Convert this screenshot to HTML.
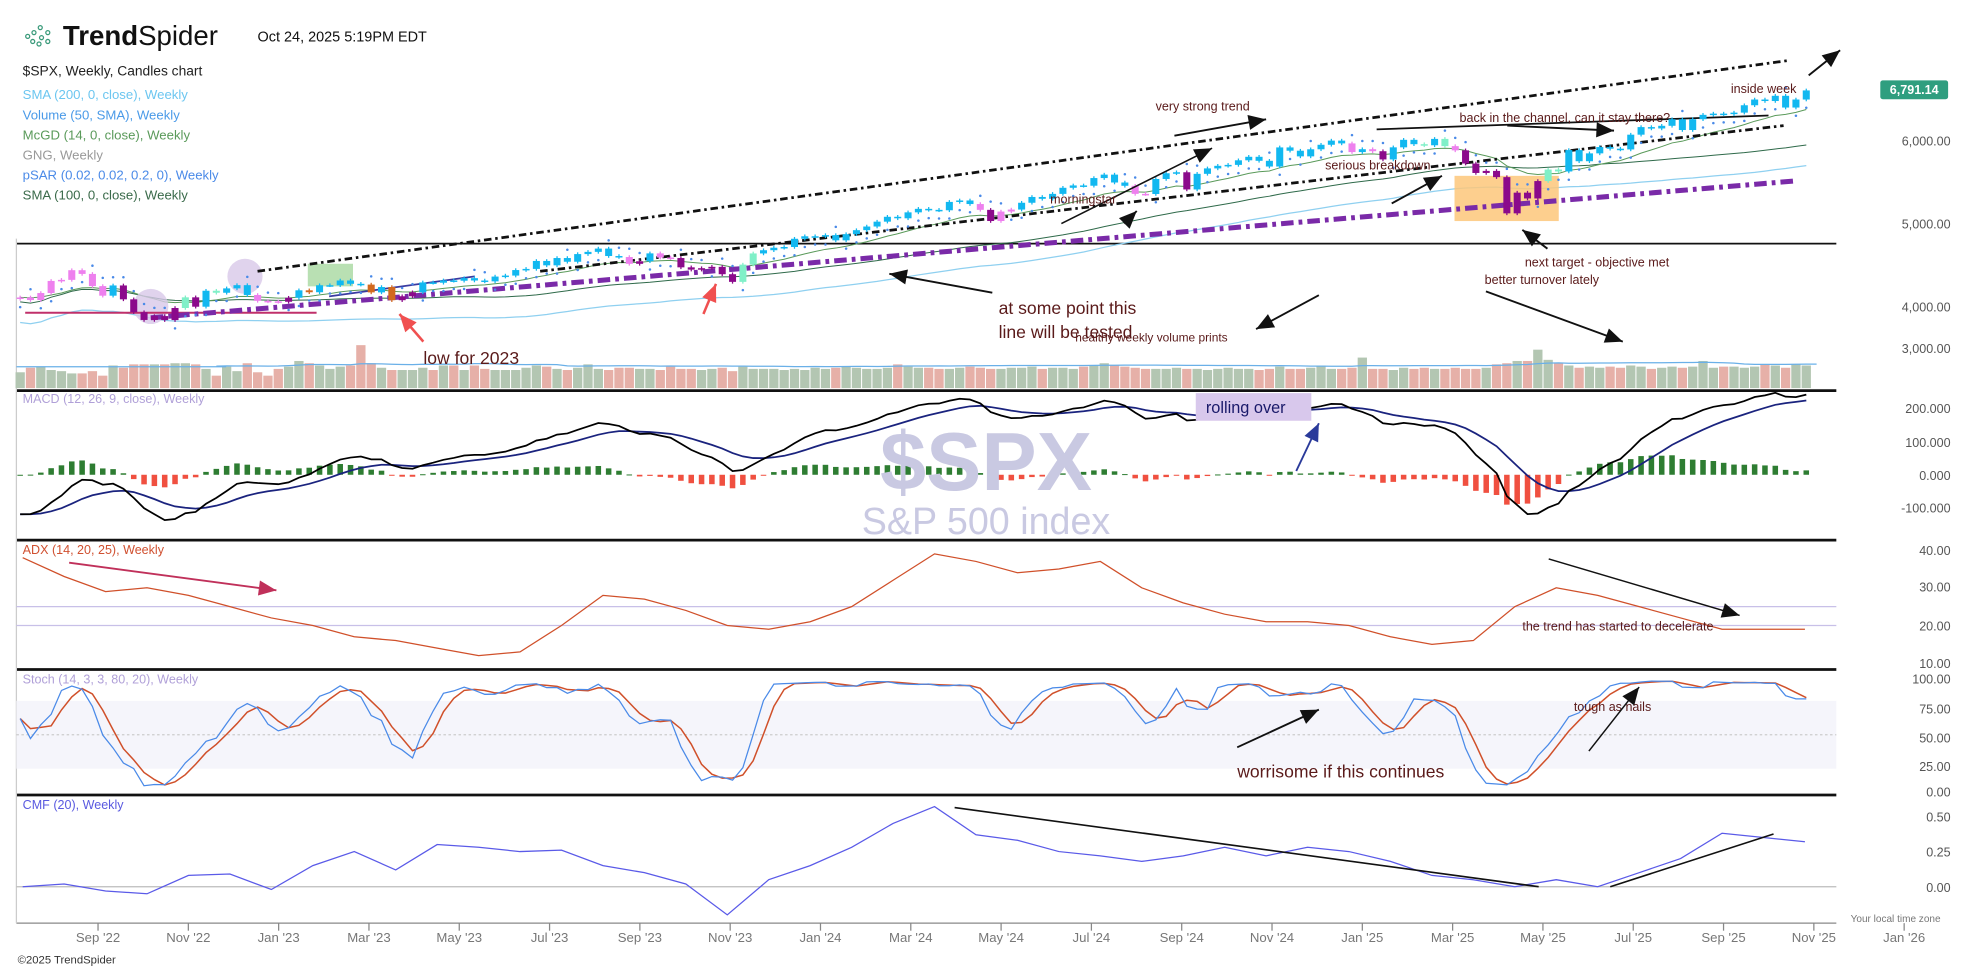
<!DOCTYPE html>
<html><head><meta charset="utf-8"><style>
html,body{margin:0;padding:0;background:#fff;overflow:hidden}
svg{display:block;font-family:"Liberation Sans",sans-serif}
</style></head><body>
<svg id="chart" width="1962" height="969" viewBox="0 0 1562 771.5" xmlns="http://www.w3.org/2000/svg">
<rect x="0" y="0" width="1562" height="771.5" fill="#fff"/>
<g>
  <g fill="none" stroke="#3a9a7a" stroke-width="1">
    <circle cx="22" cy="29" r="1.6"/><circle cx="27" cy="26" r="1.6"/><circle cx="32" cy="22" r="1.6"/><circle cx="26" cy="33" r="1.6"/><circle cx="33" cy="30" r="1.6"/><circle cx="38" cy="26" r="1.6"/><circle cx="38" cy="33" r="1.6"/><circle cx="31" cy="35" r="1.6"/>
  </g>
  <text x="50" y="36" font-size="22" fill="#111"><tspan font-weight="bold">Trend</tspan>Spider</text>
  <text x="205" y="33" font-size="11.5" fill="#111">Oct 24, 2025 5:19PM EDT</text>
  <text x="18" y="60" font-size="11" fill="#222">$SPX, Weekly, Candles chart</text>
  <text x="18" y="79" font-size="10.5" fill="#6cc6f0">SMA (200, 0, close), Weekly</text>
  <text x="18" y="95" font-size="10.5" fill="#4a9ae8">Volume (50, SMA), Weekly</text>
  <text x="18" y="111" font-size="10.5" fill="#5a9a5a">McGD (14, 0, close), Weekly</text>
  <text x="18" y="127" font-size="10.5" fill="#999">GNG, Weekly</text>
  <text x="18" y="143" font-size="10.5" fill="#4a8ae8">pSAR (0.02, 0.02, 0.2, 0), Weekly</text>
  <text x="18" y="159" font-size="10.5" fill="#3a6a4a">SMA (100, 0, close), Weekly</text>
</g>
<g id="plot"></g>
<text x="785" y="390" font-size="66" fill="#c9c9e2" text-anchor="middle" font-weight="bold">$SPX</text>
<text x="785" y="425" font-size="30" fill="#c9c9e2" text-anchor="middle">S&amp;P 500 index</text>
<g id="annot"></g>
</svg>
<script>
const closes=[3899,3863,3961,4130,4145,4280,4228,4058,3924,4067,3873,3693,3585,3639,3583,3752,3901,3770,3993,3965,4026,4071,3934,3852,3845,3839,
3895,3999,3972,4070,4070,4136,4090,4079,3970,4045,3861,3916,3971,4109,4105,4137,4133,4169,4136,4124,4191,4205,4282,4298,4409,4348,4450,4398,4505,4536,4582,4478,4464,4369,4405,4515,4457,4450,4320,4288,4308,4327,4224,4117,4358,4514,4559,4594,4604,4719,4754,4754,4770,
4697,4783,4839,4890,4958,5026,5005,5088,5137,5123,5117,5234,5254,5204,5123,4967,5099,5127,5222,5303,5277,5346,5431,5464,5460,5567,5615,5505,5459,5346,5344,5554,5634,5648,5408,5626,5702,5738,5751,5815,5864,5808,5728,5995,5949,5870,5969,6032,6090,6051,5930,5970,
5942,5827,5996,6101,6040,6025,6114,6013,5954,5770,5638,5667,5580,5074,5363,5282,5525,5686,5659,5958,5802,5912,6000,5977,5967,6173,6279,6260,6297,6389,6238,6389,6450,6467,6460,6481,6584,6664,6643,6716,6552,6664,6791];
const volumes=[14,18,19,16,15,13,13,15,11,20,18,21,21,21,21,22,22,21,17,11,19,15,22,14,11,17,19,24,22,20,17,19,20,38,22,18,16,16,16,18,16,20,20,16,20,17,16,16,16,18,20,19,17,16,18,21,17,16,18,18,17,17,16,19,17,17,16,17,18,15,19,17,17,17,16,17,16,18,17,
18,19,18,17,17,18,21,19,18,18,17,17,18,19,18,17,17,18,18,19,17,18,18,17,19,20,22,20,19,18,17,17,17,18,17,17,16,17,18,17,17,16,17,19,17,17,18,20,17,17,18,27,17,17,16,
18,17,18,17,17,18,17,17,18,21,22,24,24,34,25,22,20,18,19,18,19,18,20,19,17,18,19,18,19,24,18,19,19,18,19,21,20,18,21,20,19];
const adx=[38,33,29,30,28,25,22,20,17,16,14,12,13,20,28,27,24,20,19,21,25,32,39,37,34,35,37,30,26,23,21,21,20,17,15,16,25,30,28,25,22,19,19,19];
const cmf=[0.0,0.02,-0.03,-0.05,0.08,0.09,-0.02,0.15,0.25,0.12,0.30,0.28,0.25,0.26,0.15,0.10,0.02,-0.20,0.05,0.15,0.28,0.45,0.57,0.37,0.33,0.25,0.22,0.18,0.22,0.28,0.22,0.28,0.25,0.18,0.08,0.05,0.0,0.05,0.0,0.10,0.20,0.38,0.35,0.32];
const xTicks=["Sep '22","Nov '22","Jan '23","Mar '23","May '23","Jul '23","Sep '23","Nov '23","Jan '24","Mar '24","May '24","Jul '24","Sep '24","Nov '24","Jan '25","Mar '25","May '25","Jul '25","Sep '25","Nov '25","Jan '26"];
const priceTicks=["6,000.00","5,000.00","4,000.00","3,000.00"];
const macdTicks=["200.000","100.000","0.000","-100.000"];
const adxTicks=["40.00","30.00","20.00","10.00"];
const stochTicks=["100.00","75.00","50.00","25.00","0.00"];
const cmfTicks=["0.50","0.25","0.00"];

const NS="http://www.w3.org/2000/svg";
const X0=16, DX=8.22, RIGHT=1462;
const xw=i=>X0+i*DX;
const xs=i=>18+i*33;
const yP=p=>72+(6791-p)*0.057;
const yVol=v=>309-v*0.9;
const yMacd=v=>378-v*0.262;
const yAdx=v=>528-(v-10)*3;
const yStoch=v=>630-v*0.9;
const yCmf=v=>706-v*112;
const plot=document.getElementById('plot');
function mk(tag,attrs,parent){const e=document.createElementNS(NS,tag);for(const k in attrs)e.setAttribute(k,attrs[k]);(parent||plot).appendChild(e);return e;}
function poly(vals,xf,yf){return vals.map((v,i)=>(v==null?null:xf(i).toFixed(1)+','+yf(v).toFixed(1))).filter(s=>s).join(' ');}

let g=mk('g',{});


mk('line',{x1:13,y1:194,x2:RIGHT,y2:194,stroke:'#111','stroke-width':1.4},g);
[311,430,533,633].forEach(y=>{mk('line',{x1:13,y1:y,x2:RIGHT,y2:y,stroke:'#111','stroke-width':2.2},g);});
mk('line',{x1:13,y1:735,x2:RIGHT,y2:735,stroke:'#888','stroke-width':1},g);
mk('line',{x1:13,y1:190,x2:13,y2:735,stroke:'#ccc','stroke-width':1},g);

const xa=mk('g',{});


xTicks.forEach((t,i)=>{const x=78+i*71.9;
  mk('line',{x1:x,y1:735,x2:x,y2:741,stroke:'#888'},xa);
  const tx=mk('text',{x:x,y:750,'font-size':10.5,fill:'#777','text-anchor':'middle'},xa);tx.textContent=t;});
const cp=mk('text',{x:14,y:767,'font-size':9,fill:'#333'});cp.textContent='©2025 TrendSpider';
const lt=mk('text',{x:1545,y:734,'font-size':8,fill:'#777','text-anchor':'end'});lt.textContent='Your local time zone';

function yAxis(ticks,ys,name){const ga=mk('g',{});
  ticks.forEach((t,i)=>{const tx=mk('text',{x:1553,y:ys[i]+4,'font-size':10,fill:'#555','text-anchor':'end'},ga);tx.textContent=t;});}
yAxis(priceTicks,[112,178,244,277],'price-axis');
yAxis(macdTicks,[325,352,378,404],'macd-axis');
yAxis(adxTicks,[438,467,498,528],'adx-axis');
yAxis(stochTicks,[540,564,587,610,630],'stoch-axis');
yAxis(cmfTicks,[650,678,706],'cmf-axis');
mk('rect',{x:1497,y:64,width:54,height:15,rx:2,fill:'#2f9e7f'});
const pl=mk('text',{x:1524,y:75,'font-size':10,fill:'#fff','text-anchor':'middle','font-weight':'bold'});pl.textContent='6,791.14';

function sma(a,n){return a.map((v,i)=>i<n-1?null:a.slice(i-n+1,i+1).reduce((s,x)=>s+x,0)/n);}
function ema(a,n){const k=2/(n+1);let e=a[0];return a.map(v=>(e=v*k+e*(1-k)));}
const e12=ema(closes,12),e26=ema(closes,26);
const macd=closes.map((c,i)=>(e12[i]-e26[i])*1.15-(i<30?(30-i)*4:0));
const sig=ema(macd,9);
const opens=closes.map((c,i)=>i?closes[i-1]:c-20);
const highs=closes.map((c,i)=>Math.max(c,opens[i])+25);
const lows=closes.map((c,i)=>Math.min(c,opens[i])-25);
const rawK=closes.map((c,i)=>{const s=Math.max(0,i-13);const hh=Math.max(...highs.slice(s,i+1)),ll=Math.min(...lows.slice(s,i+1));return 100*(c-ll)/(hh-ll||1);});
const kS=rawK.map((v,i)=>{const s=rawK.slice(Math.max(0,i-2),i+1);return s.reduce((a,b)=>a+b,0)/s.length;});
const dS=kS.map((v,i)=>{const s=kS.slice(Math.max(0,i-2),i+1);return s.reduce((a,b)=>a+b,0)/s.length;});
const ma10=sma(closes,10);

const sma40=closes.map((c,i)=>{const s=closes.slice(Math.max(0,i-39),i+1);return s.reduce((a,b)=>a+b,0)/s.length;});
let l=mk('polyline',{points:poly(sma40.map(v=>v-350),xw,yP),fill:'none',stroke:'#8fd0f0','stroke-width':1});

l=mk('polyline',{points:poly(sma40.map(v=>v-60),xw,yP),fill:'none',stroke:'#2f6a4a','stroke-width':0.8});

const mc=ema(closes,14);
l=mk('polyline',{points:poly(mc,xw,yP),fill:'none',stroke:'#5a9a5a','stroke-width':0.8});

l=mk('rect',{x:1158,y:140,width:83,height:36,fill:'#fdc77a',opacity:0.85});
l=mk('rect',{x:245,y:210,width:36,height:18,fill:'#a8d8a0',opacity:0.8});
[[120,244,14],[195,220,14]].forEach(c=>{const e=mk('circle',{cx:c[0],cy:c[1],r:c[2],fill:'#d8c8e8',opacity:0.8});});
mk('line',{x1:20,y1:249,x2:252,y2:249,stroke:'#c0306a','stroke-width':1.6});
l=mk('line',{x1:205,y1:216,x2:1425,y2:48,stroke:'#111','stroke-width':2.2,'stroke-dasharray':'6 3 2 3'});
l=mk('line',{x1:430,y1:216,x2:1420,y2:100,stroke:'#111','stroke-width':2.2,'stroke-dasharray':'6 3 2 3'});
l=mk('line',{x1:120,y1:253,x2:1430,y2:144,stroke:'#7a2aa8','stroke-width':4,'stroke-dasharray':'10 4 3 4'});
mk('line',{x1:1096,y1:103,x2:1408,y2:92,stroke:'#111','stroke-width':1.4});
mk('line',{x1:262,y1:236,x2:378,y2:220,stroke:'#3a3aa0','stroke-width':1.4});
closes.forEach((c,i)=>{const above=i>0&&c<closes[Math.max(0,i-3)];const v=above?highs[i]+90:lows[i]-90;
  const d=mk('circle',{cx:xw(i),cy:yP(v),r:1,fill:'#4a8ae8'});});
closes.forEach((c,i)=>{const o=opens[i];const m=ma10[i]||c;const up=c>=o;
  let col;if(c>m&&(i<1||m>=(ma10[i-1]||m)))col='#12b8f0';else if(c>m)col='#80f0c8';else if(c<m&&m<(ma10[i-1]||m))col='#8b0a8b';else col='#ee80ee';
  if(i>=26&&i<45&&col!=='#12b8f0'&&!up)col='#d2691e';
  const x=xw(i);const cg=mk('g',{});
  
  
  mk('line',{x1:x,y1:yP(highs[i]),x2:x,y2:yP(lows[i]),stroke:col,'stroke-width':1},cg);
  const t=yP(Math.max(o,c)),b=yP(Math.min(o,c));
  mk('rect',{x:x-2.8,y:t,width:5.6,height:Math.max(1.2,b-t),fill:col},cg);});
closes.forEach((c,i)=>{const r=mk('rect',{x:xw(i)-3.7,y:yVol(volumes[i]),width:7.4,height:309-yVol(volumes[i]),fill:c>=opens[i]?'#b3c6b2':'#e6b0a8'});
  });
l=mk('polyline',{points:poly(sma(volumes,20).map(v=>v==null?null:v+2),xw,yVol),fill:'none',stroke:'#6ab0e8','stroke-width':1});

mk('line',{x1:13,y1:292,x2:180,y2:292,stroke:'#6ab0e8','stroke-width':1});

const lbl=(t,y,c,n)=>{const e=mk('text',{x:18,y:y,'font-size':10,fill:c});e.textContent=t;};
lbl('MACD (12, 26, 9, close), Weekly',321,'#b0a0d8','macd-label');
macd.forEach((v,i)=>{const h=(v-sig[i])*0.75;const r=mk('rect',{x:xw(i)-2.2,y:Math.min(yMacd(h),378),width:4.4,height:Math.max(0.8,Math.abs(yMacd(h)-378)),fill:h>=0?'#2e7d32':'#f05040'});
  });
l=mk('polyline',{points:poly(sig,xw,yMacd),fill:'none',stroke:'#1a237e','stroke-width':1.4});
l=mk('polyline',{points:poly(macd,xw,yMacd),fill:'none',stroke:'#000','stroke-width':1.4});

lbl('ADX (14, 20, 25), Weekly',441,'#d05030','adx-label');
mk('line',{x1:13,y1:yAdx(25),x2:RIGHT,y2:yAdx(25),stroke:'#c8c0e8','stroke-width':1});
mk('line',{x1:13,y1:yAdx(20),x2:RIGHT,y2:yAdx(20),stroke:'#c8c0e8','stroke-width':1});
l=mk('polyline',{points:poly(adx,xs,yAdx),fill:'none',stroke:'#d0502a','stroke-width':1});

lbl('Stoch (14, 3, 3, 80, 20), Weekly',544,'#b0a0d8','stoch-label');
mk('rect',{x:13,y:yStoch(80),width:RIGHT-13,height:yStoch(20)-yStoch(80),fill:'#f5f5fb'});
mk('line',{x1:13,y1:yStoch(50),x2:RIGHT,y2:yStoch(50),stroke:'#ccc','stroke-dasharray':'2 2'});
l=mk('polyline',{points:poly(dS,xw,yStoch),fill:'none',stroke:'#d0502a','stroke-width':1.2});
l=mk('polyline',{points:poly(kS,xw,yStoch),fill:'none',stroke:'#4a8ae8','stroke-width':1});

lbl('CMF (20), Weekly',644,'#5a5ae0','cmf-label');
mk('line',{x1:13,y1:yCmf(0),x2:RIGHT,y2:yCmf(0),stroke:'#bbb','stroke-width':1});
l=mk('polyline',{points:poly(cmf,xs,yCmf),fill:'none',stroke:'#5a5ae8','stroke-width':1});

const an=document.getElementById('annot');
function arrow(x1,y1,x2,y2,c,w){const a=mk('g',{},an);
  mk('line',{x1,y1,x2,y2,stroke:c,'stroke-width':w||1.5},a);const ang=Math.atan2(y2-y1,x2-x1),L=14,W=6;
  const p=[[x2,y2],[x2-L*Math.cos(ang)+W*Math.sin(ang),y2-L*Math.sin(ang)-W*Math.cos(ang)],[x2-L*Math.cos(ang)-W*Math.sin(ang),y2-L*Math.sin(ang)+W*Math.cos(ang)]];
  mk('polygon',{points:p.map(q=>q.join(',')).join(' '),fill:c},a);}
function note(t,x,y,s,c){const e=mk('text',{x,y,'font-size':s||10,fill:c||'#5a1a1a'},an);e.textContent=t;return e;}
note('very strong trend',920,88);arrow(935,108,1008,95,'#111');arrow(845,178,965,118,'#111',1.2);
note('morningstar',836,162);arrow(895,178,905,168,'#111');
note('serious breakdown',1055,135);arrow(1108,162,1148,140,'#111');
note('back in the channel, can it stay there?',1162,97);arrow(1200,100,1285,104,'#111');
note('inside week',1378,74);arrow(1440,60,1465,40,'#111');
note('next target - objective met',1214,212);arrow(1232,198,1212,183,'#111');
note('better turnover lately',1182,226);arrow(1183,232,1292,272,'#111');
note('at some point this',795,250,14);note('line will be tested',795,269,14);arrow(790,233,708,218,'#111');
note('healthy weekly volume prints',856,272,9.5);arrow(1050,235,1000,262,'#111');
note('low for 2023',337,290,14);arrow(337,272,318,250,'#f05050',2);arrow(560,250,570,226,'#f05050',2);
mk('rect',{x:952,y:313,width:92,height:22,fill:'#d8c8ec'},an);
note('rolling over',960,329,13,'#1a1a6a');
arrow(1032,375,1050,337,'#2a3a9a');
arrow(55,448,220,470,'#c0305a');
arrow(1233,445,1385,490,'#111',1.2);note('the trend has started to decelerate',1212,502,10);
arrow(985,595,1050,565,'#111');note('worrisome if this continues',985,619,14);
note('tough as nails',1253,566,10);arrow(1265,598,1305,547,'#111',1.2);
mk('line',{x1:760,y1:643,x2:1225,y2:706,stroke:'#111','stroke-width':1.3},an);
mk('line',{x1:1282,y1:706,x2:1412,y2:664,stroke:'#111','stroke-width':1.3},an);
</script>
</body></html>
